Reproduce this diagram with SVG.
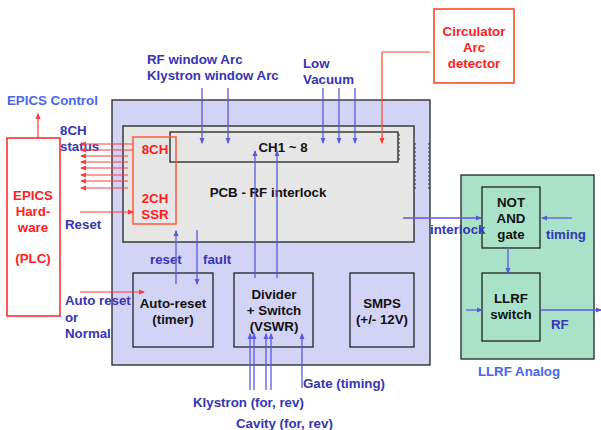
<svg xmlns="http://www.w3.org/2000/svg" width="601" height="430" viewBox="0 0 601 430">
<style>
text{font-family:"Liberation Sans",Arial,sans-serif;font-weight:bold;font-size:13.3px}
.lbl{fill:#3535b5}
.lbl2{fill:#4a66e8}
.blk{fill:#111}
.red{fill:#ff2020}
.box{stroke:#222;stroke-width:1.3}
.blue{stroke:#5a5ae0;stroke-width:1.3;fill:none}
.redl{stroke:#ff3a3a;stroke-width:1.2;fill:none}
.dash{stroke:#333;stroke-width:1;stroke-dasharray:2,2;fill:none}
</style>
<defs>
<marker id="ab" markerWidth="6" markerHeight="6" refX="5" refY="3" orient="auto" markerUnits="userSpaceOnUse"><path d="M0,0.5 L6,3 L0,5.5z" fill="#5a5ae0"/></marker>
<marker id="ar" markerWidth="6" markerHeight="6" refX="5" refY="3" orient="auto" markerUnits="userSpaceOnUse"><path d="M0,0.5 L6,3 L0,5.5z" fill="#ff3a3a"/></marker>
</defs>
<rect width="601" height="430" fill="#fff"/>

<g id="outer">
<rect x="112" y="100" width="318" height="265" fill="#d3d3f5" class="box"/>
<line x1="429" y1="143" x2="429" y2="189" class="dash"/>
</g>
<g id="pcb">
<rect x="123" y="126" width="291" height="116" fill="#e6e6e6" class="box"/>
<line x1="415" y1="143" x2="415" y2="190" class="dash"/>
<text x="268" y="197" text-anchor="middle" class="blk">PCB - RF interlock</text>
</g>
<g id="ch18">
<rect x="170" y="132" width="228" height="30" fill="#e6e6e6" class="box"/>
<line x1="399" y1="134" x2="399" y2="160" class="dash"/>
<text x="283" y="152" text-anchor="middle" class="blk">CH1 ~ 8</text>
</g>
<g id="ssr">
<rect x="133" y="137" width="43" height="87" fill="none" stroke="#ff5a3a" stroke-width="1.5"/>
<text x="155" y="154" text-anchor="middle" class="red">8CH</text>
<text x="155" y="203" text-anchor="middle" class="red">2CH</text>
<text x="155" y="219" text-anchor="middle" class="red">SSR</text>
</g>
<g id="epics">
<rect x="7" y="138" width="53" height="178" fill="#fff" stroke="#ff2020" stroke-width="1.5"/>
<text x="33" y="200" text-anchor="middle" class="red">EPICS</text>
<text x="33" y="216" text-anchor="middle" class="red">Hard-</text>
<text x="33" y="232" text-anchor="middle" class="red">ware</text>
<text x="33" y="263" text-anchor="middle" class="red">(PLC)</text>
</g>
<g id="circulator">
<rect x="434" y="9" width="80" height="74" fill="#fff" stroke="#ff3a1a" stroke-width="1.5"/>
<text x="474" y="36" text-anchor="middle" class="red">Circulator</text>
<text x="474" y="52" text-anchor="middle" class="red">Arc</text>
<text x="474" y="68" text-anchor="middle" class="red">detector</text>
</g>
<g id="autoreset">
<rect x="133" y="273" width="80" height="74" fill="#d3d3f5" class="box"/>
<text x="173" y="308" text-anchor="middle" class="blk">Auto-reset</text>
<text x="173" y="324" text-anchor="middle" class="blk">(timer)</text>
</g>
<g id="divider">
<rect x="234" y="273" width="79" height="74" fill="#d3d3f5" class="box"/>
<text x="274" y="299" text-anchor="middle" class="blk">Divider</text>
<text x="274" y="315" text-anchor="middle" class="blk">+ Switch</text>
<text x="274" y="331" text-anchor="middle" class="blk">(VSWR)</text>
</g>
<g id="smps">
<rect x="350" y="273" width="64" height="74" fill="#d3d3f5" class="box"/>
<text x="382" y="308" text-anchor="middle" class="blk">SMPS</text>
<text x="382" y="324" text-anchor="middle" class="blk">(+/- 12V)</text>
</g>
<g id="llrfanalog">
<rect x="461" y="175" width="133" height="184" fill="#aae2c9" class="box"/>
<text x="519" y="376" text-anchor="middle" class="lbl2">LLRF Analog</text>
</g>
<g id="notand">
<rect x="482" y="187" width="58" height="61" fill="#aae2c9" class="box"/>
<text x="511" y="207" text-anchor="middle" class="blk">NOT</text>
<text x="511" y="223" text-anchor="middle" class="blk">AND</text>
<text x="511" y="239" text-anchor="middle" class="blk">gate</text>
</g>
<g id="llrfswitch">
<rect x="482" y="273" width="58" height="68" fill="#aae2c9" class="box"/>
<text x="511" y="303" text-anchor="middle" class="blk">LLRF</text>
<text x="511" y="319" text-anchor="middle" class="blk">switch</text>
</g>

<g id="labels">
<text x="7" y="105" class="lbl2">EPICS Control</text>
<text x="60" y="135" class="lbl">8CH</text>
<text x="60" y="151" class="lbl">status</text>
<text x="65" y="229" class="lbl">Reset</text>
<text x="65" y="305" class="lbl">Auto reset</text>
<text x="65" y="322" class="lbl">or</text>
<text x="65" y="338" class="lbl">Normal</text>
<text x="147" y="64" class="lbl">RF window Arc</text>
<text x="147" y="80" class="lbl">Klystron window Arc</text>
<text x="303" y="68" class="lbl">Low</text>
<text x="303" y="84" class="lbl">Vacuum</text>
<text x="150" y="264" class="lbl">reset</text>
<text x="203" y="264" class="lbl">fault</text>
<text x="430" y="234" class="lbl">interlock</text>
<text x="546" y="239" class="lbl">timing</text>
<text x="551" y="329" class="lbl">RF</text>
<text x="303" y="388" class="lbl">Gate (timing)</text>
<text x="193" y="407" class="lbl">Klystron (for, rev)</text>
<text x="236" y="428" class="lbl">Cavity (for, rev)</text>
</g>

<g id="connectors">
<line x1="38" y1="138" x2="38" y2="114" class="redl" marker-end="url(#ar)"/>
<line x1="133" y1="144" x2="81" y2="144" class="redl" marker-end="url(#ar)"/>
<line x1="133" y1="150" x2="81" y2="150" class="redl" marker-end="url(#ar)"/>
<line x1="128" y1="156" x2="81" y2="156" class="redl" marker-end="url(#ar)"/>
<line x1="128" y1="162" x2="81" y2="162" class="redl" marker-end="url(#ar)"/>
<line x1="128" y1="168" x2="81" y2="168" class="redl" marker-end="url(#ar)"/>
<line x1="128" y1="175" x2="81" y2="175" class="redl" marker-end="url(#ar)"/>
<line x1="128" y1="181" x2="81" y2="181" class="redl" marker-end="url(#ar)"/>
<line x1="128" y1="188" x2="81" y2="188" class="redl" marker-end="url(#ar)"/>
<line x1="80" y1="212" x2="133" y2="212" class="redl" marker-end="url(#ar)"/>
<line x1="80" y1="292" x2="144" y2="292" class="redl" marker-end="url(#ar)"/>
<polyline points="430,52 382,52 382,143" stroke="#ff4a2a" stroke-width="1.2" fill="none" marker-end="url(#ar)"/>
<line x1="202" y1="88" x2="202" y2="143" class="blue" marker-end="url(#ab)"/>
<line x1="228" y1="88" x2="228" y2="143" class="blue" marker-end="url(#ab)"/>
<line x1="323" y1="88" x2="323" y2="143" class="blue" marker-end="url(#ab)"/>
<line x1="339" y1="88" x2="339" y2="143" class="blue" marker-end="url(#ab)"/>
<line x1="355" y1="88" x2="355" y2="143" class="blue" marker-end="url(#ab)"/>
<line x1="176" y1="284" x2="176" y2="231" class="blue" marker-end="url(#ab)"/>
<line x1="197" y1="230" x2="197" y2="284" class="blue" marker-end="url(#ab)"/>
<line x1="255" y1="278" x2="255" y2="151" class="blue" marker-end="url(#ab)"/>
<line x1="277" y1="278" x2="277" y2="151" class="blue" marker-end="url(#ab)"/>
<line x1="403" y1="218" x2="481" y2="218" class="blue" marker-end="url(#ab)"/>
<line x1="572" y1="218" x2="542" y2="218" class="blue" marker-end="url(#ab)"/>
<line x1="508" y1="248" x2="508" y2="273" class="blue" marker-end="url(#ab)"/>
<line x1="466" y1="310" x2="482" y2="310" class="blue" marker-end="url(#ab)"/>
<line x1="540" y1="310" x2="601" y2="310" class="blue" marker-end="url(#ab)"/>
<line x1="250" y1="390" x2="250" y2="334" class="blue" marker-end="url(#ab)"/>
<line x1="254" y1="390" x2="254" y2="334" class="blue" marker-end="url(#ab)"/>
<line x1="266" y1="390" x2="266" y2="334" class="blue" marker-end="url(#ab)"/>
<line x1="271" y1="390" x2="271" y2="334" class="blue" marker-end="url(#ab)"/>
<line x1="302" y1="388" x2="302" y2="334" class="blue" marker-end="url(#ab)"/>
</g>
</svg>
